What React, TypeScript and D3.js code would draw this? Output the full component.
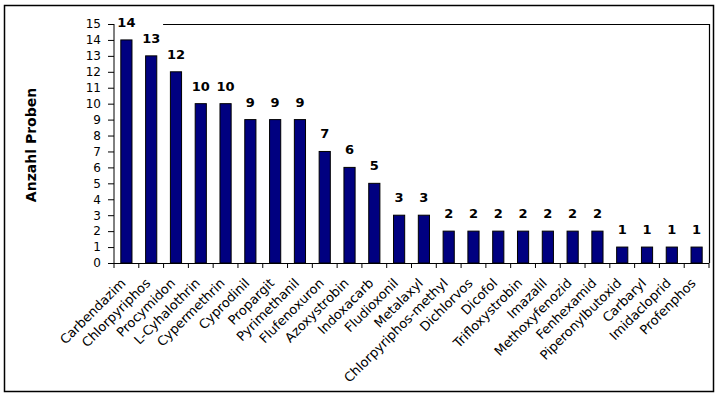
import React, { useEffect, useRef } from 'react';
import * as d3 from 'd3';

const categories = [
  'Carbendazim', 'Chlorpyriphos', 'Procymidon', 'L-Cyhalothrin', 'Cypermethrin',
  'Cyprodinil', 'Propargit', 'Pyrimethanil', 'Flufenoxuron', 'Azoxystrobin',
  'Indoxacarb', 'Fludioxonil', 'Metalaxyl', 'Chlorpyriphos-methyl', 'Dichlorvos',
  'Dicofol', 'Trifloxystrobin', 'Imazalil', 'Methoxyfenozid', 'Fenhexamid',
  'Piperonylbutoxid', 'Carbaryl', 'Imidacloprid', 'Profenphos',
];
const counts = [14, 13, 12, 10, 10, 9, 9, 9, 7, 6, 5, 3, 3, 2, 2, 2, 2, 2, 2, 2, 1, 1, 1, 1];
const yTicks = d3.range(0, 16);

const FONT = '"DejaVu Sans", Verdana, sans-serif';

const App = () => {
  const ref = useRef<SVGSVGElement>(null);

  useEffect(() => {
    if (!ref.current) return;
    const svg = d3.select(ref.current);
    svg.selectAll('*').remove();

    const W = 724, H = 396;
    const margin = { top: 24, right: 15, bottom: 133, left: 114 };
    const width = W - margin.left - margin.right;
    const height = H - margin.top - margin.bottom;

    // outer frame
    svg.append('rect')
      .attr('x', 4.5).attr('y', 5.5)
      .attr('width', 709).attr('height', 386)
      .attr('fill', 'white').attr('stroke', 'black').attr('stroke-width', 1.5);

    const g = svg.append('g').attr('transform', `translate(${margin.left},${margin.top})`);

    const x = d3.scaleBand().domain(categories).range([0, width]).paddingInner(0.55).paddingOuter(0.275);
    const y = d3.scaleLinear().domain([0, 15]).range([height, 0]);

    // plot frame (top + right)
    const step = x.step();
    g.append('path')
      .attr('d', `M${step * 2 - 0.5},0.5H${width + 0.5}V${height}`)
      .attr('fill', 'none').attr('stroke', 'black').attr('stroke-width', 1.2);

    // bars
    g.selectAll('.bar')
      .data(categories)
      .enter()
      .append('rect')
      .attr('x', (d) => x(d)!)
      .attr('y', (d, i) => y(counts[i]))
      .attr('width', x.bandwidth())
      .attr('height', (d, i) => height - y(counts[i]))
      .attr('fill', '#000080')
      .attr('stroke', 'black')
      .attr('stroke-width', 1);

    // value labels
    g.selectAll('.lbl')
      .data(categories)
      .enter()
      .append('text')
      .attr('x', (d) => x(d)! + x.bandwidth() / 2)
      .attr('y', (d, i) => y(counts[i]) - 13)
      .attr('text-anchor', 'middle')
      .style('font-family', FONT)
      .style('font-weight', 'bold')
      .style('font-size', '13px')
      .text((d, i) => counts[i]);

    // y axis
    const ya = g.append('g')
      .call(d3.axisLeft(y).tickValues(yTicks).tickSize(6).tickPadding(7).tickFormat(d3.format('d')));
    ya.select('.domain').attr('stroke', 'black').attr('d', `M0,${height}V0`);
    ya.selectAll('text')
      .style('font-family', FONT)
      .style('font-size', '12px')
      .attr('fill', 'black');

    // x axis
    const xa = g.append('g')
      .attr('transform', `translate(0,${height})`)
      .call(d3.axisBottom(x).tickSize(0).tickFormat(() => ''));
    xa.select('.domain').attr('d', `M0,0.5H${width}`).attr('stroke', 'black');
    // tick marks at band boundaries
    g.selectAll('.xt')
      .data(d3.range(0, categories.length + 1))
      .enter()
      .append('line')
      .attr('x1', (i) => i * step).attr('x2', (i) => i * step)
      .attr('y1', height).attr('y2', height + 5)
      .attr('stroke', 'black');

    g.selectAll('.xl')
      .data(categories)
      .enter()
      .append('text')
      .attr('transform', (d) => `translate(${x(d)! + x.bandwidth() / 2},${height + 21}) rotate(-45)`)
      .attr('text-anchor', 'end')
      .style('font-family', FONT)
      .style('font-size', '13px')
      .text((d) => d);

    // y title
    svg.append('text')
      .attr('transform', `translate(36,145) rotate(-90)`)
      .attr('text-anchor', 'middle')
      .style('font-family', FONT)
      .style('font-weight', 'bold')
      .style('font-size', '14px')
      .text('Anzahl Proben');
  }, []);

  return (
    <svg
      ref={ref}
      width={724}
      height={396}
      style={{ position: 'absolute', left: 0, top: 0, background: 'white' }}
    />
  );
};

export default App;
